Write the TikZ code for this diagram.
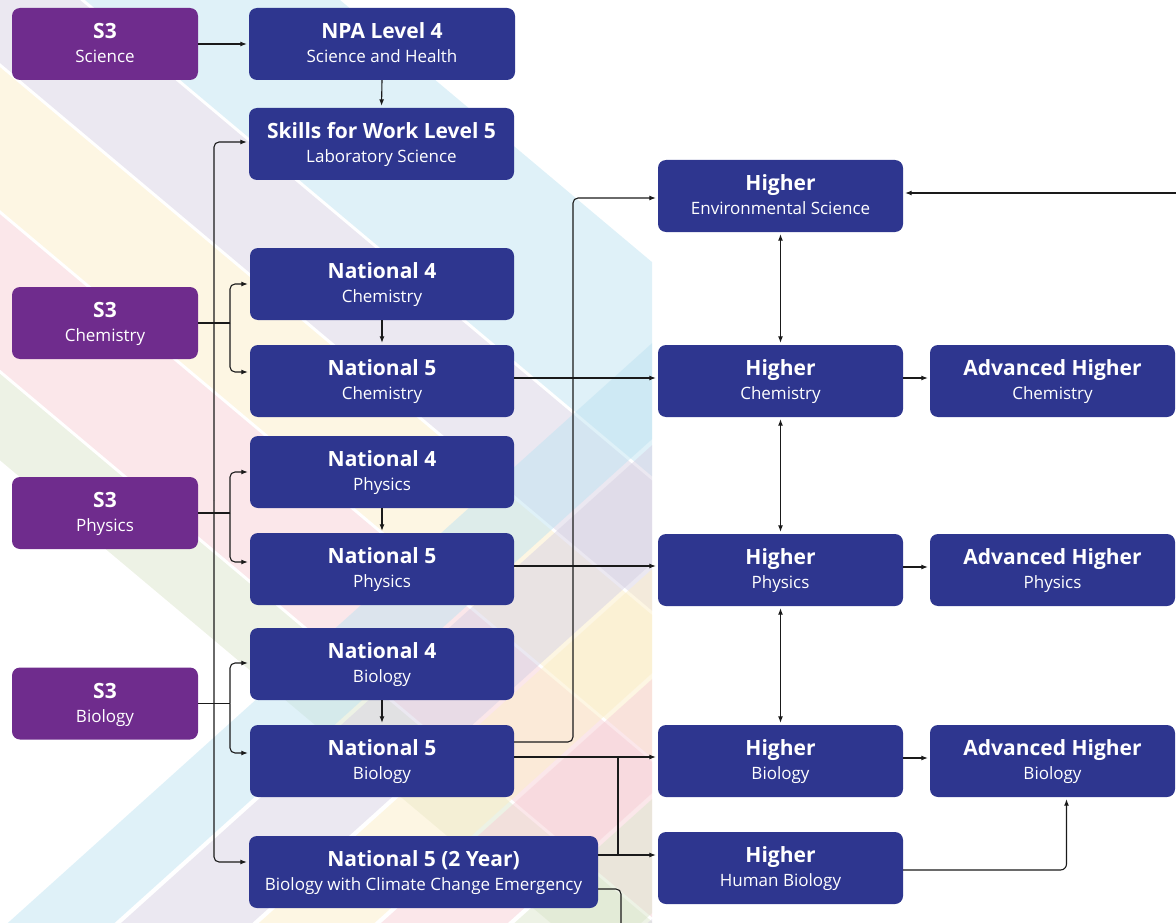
\documentclass[tikz,border=0pt]{standalone}
\usepackage{fontspec}
\setmainfont{Open Sans}
\usetikzlibrary{arrows.meta}
\definecolor{s3purple}{HTML}{6F2C8D}
\definecolor{navy}{HTML}{2E368F}
\definecolor{lineclr}{HTML}{1A1A1A}
% down bands (opaque, target colours)
\definecolor{dLav}{HTML}{EBE8F1}
\definecolor{dBlue}{HTML}{DFF1F8}
\definecolor{dYel}{HTML}{FDF6E3}
\definecolor{dPink}{HTML}{FBE7EA}
\definecolor{dGreen}{HTML}{EDF2E5}
% up bands (used at half opacity)
\definecolor{uLav}{RGB}{215,209,227}
\definecolor{uBlue}{RGB}{191,227,241}
\definecolor{uYel}{RGB}{251,237,199}
\definecolor{uPink}{RGB}{247,207,213}
\definecolor{uGreen}{RGB}{219,229,203}
\newcommand\ttl[1]{{\bfseries\fontsize{21}{24}\selectfont #1}\rule{0pt}{20.8pt}}
\newcommand\dband[3]{\fill[#3] (#1-1100,-924) -- (#2-1100,-924) -- (#2+1100,924) -- (#1+1100,924) -- cycle;}
\newcommand\uband[3]{\fill[#3,fill opacity=0.5] (-100,#1+90) -- (800,#1-720) -- (800,#2-720) -- (-100,#2+90) -- cycle;}
\tikzset{
  box/.style={rounded corners=8pt, minimum height=72pt, text=white, align=center, inner sep=0pt, font=\fontsize{17}{24}\selectfont},
  s3box/.style={box, fill=s3purple, minimum width=186pt},
  bluebox/.style={box, fill=navy, minimum width=#1},
  bluebox/.default=264pt,
  conn/.style={draw=lineclr, line width=1.1pt, -{Latex[length=6.5pt,width=5pt]}, shorten >=2pt},
  conn2/.style={draw=lineclr, line width=1.1pt, {Latex[length=6.5pt,width=5pt]}-{Latex[length=6.5pt,width=5pt]}, shorten >=2pt, shorten <=2pt},
  plain/.style={draw=lineclr, line width=1.1pt},
}
\begin{document}
\begin{tikzpicture}[x=1pt,y=-1pt]
\useasboundingbox (0,0) rectangle (1176,923);
% background stripes
\begin{scope}
\clip (0,0) rectangle (652,923);
\dband{85}{340}{dBlue}
\dband{-75}{80}{dLav}
\dband{-250}{-80}{dYel}
\dband{-440}{-255}{dPink}
\dband{-548}{-445}{dGreen}
\uband{930}{1026}{uBlue}
\uband{1032}{1150}{uLav}
\uband{1156}{1260}{uYel}
\uband{1266}{1380}{uPink}
\uband{1386}{1500}{uGreen}
\uband{1506}{1620}{uLav}
\end{scope}
% nodes
\node[s3box] (s3sci) at (105,44) {\ttl{S3}\\Science\strut};
\node[bluebox=266pt] (npa) at (382,44) {\ttl{NPA Level 4}\\Science and Health\strut};
\node[bluebox=265pt] (skills) at (381.5,144) {\ttl{Skills for Work Level 5}\\Laboratory Science\strut};
\node[s3box] (s3chem) at (105,323) {\ttl{S3}\\Chemistry\strut};
\node[bluebox] (n4chem) at (382,284) {\ttl{National 4}\\Chemistry\strut};
\node[bluebox] (n5chem) at (382,381) {\ttl{National 5}\\Chemistry\strut};
\node[s3box] (s3phys) at (105,513) {\ttl{S3}\\Physics\strut};
\node[bluebox] (n4phys) at (382,472) {\ttl{National 4}\\Physics\strut};
\node[bluebox] (n5phys) at (382,569) {\ttl{National 5}\\Physics\strut};
\node[s3box] (s3bio) at (105,703.5) {\ttl{S3}\\Biology\strut};
\node[bluebox] (n4bio) at (382,664) {\ttl{National 4}\\Biology\strut};
\node[bluebox] (n5bio) at (382,761) {\ttl{National 5}\\Biology\strut};
\node[bluebox=349pt] (n5two) at (423.5,872) {\ttl{National 5 (2 Year)}\\Biology with Climate Change Emergency\strut};
\node[bluebox=245pt] (henv) at (780.5,196) {\ttl{Higher}\\Environmental Science\strut};
\node[bluebox=245pt] (hchem) at (780.5,381) {\ttl{Higher}\\Chemistry\strut};
\node[bluebox=245pt] (ahchem) at (1052.5,381) {\ttl{Advanced Higher}\\Chemistry\strut};
\node[bluebox=245pt] (hphys) at (780.5,570) {\ttl{Higher}\\Physics\strut};
\node[bluebox=245pt] (ahphys) at (1052.5,570) {\ttl{Advanced Higher}\\Physics\strut};
\node[bluebox=245pt] (hbio) at (780.5,761) {\ttl{Higher}\\Biology\strut};
\node[bluebox=245pt] (ahbio) at (1052.5,761) {\ttl{Advanced Higher}\\Biology\strut};
\node[bluebox=245pt] (hhb) at (780.5,868) {\ttl{Higher}\\Human Biology\strut};
% coordinates
\coordinate (bus) at (214,500);
\coordinate (cb) at (230,323);
\coordinate (pb) at (230,513);
\coordinate (bb) at (230,703.5);
\coordinate (envx) at (573,198);
\coordinate (rin) at (1180,193);
\coordinate (j1) at (618,757);
\coordinate (j2) at (618,855);
\coordinate (exitb) at (621,930);
% connectors
\draw[conn] (s3sci.east) -- (npa.west);
\draw[conn] (npa.south) -- (skills.north);
\draw[conn, rounded corners=5pt] (bus) |- ([yshift=2pt]skills.west);
\draw[conn, rounded corners=5pt] (bus) |- ([yshift=10pt]n5two.west);
\draw[plain] (s3chem.east) -- (cb);
\draw[conn, rounded corners=5pt] (cb) |- (n4chem.west);
\draw[conn, rounded corners=5pt] (cb) |- ([yshift=9pt]n5chem.west);
\draw[plain] (s3phys.east) -- (pb);
\draw[conn, rounded corners=5pt] (pb) |- (n4phys.west);
\draw[conn, rounded corners=5pt] (pb) |- ([yshift=7pt]n5phys.west);
\draw[plain] (s3bio.east) -- (bb);
\draw[conn, rounded corners=5pt] (bb) |- ([yshift=1pt]n4bio.west);
\draw[conn, rounded corners=5pt] (bb) |- ([yshift=8pt]n5bio.west);
\draw[conn] (n4chem.south) -- (n5chem.north);
\draw[conn] (n4phys.south) -- (n5phys.north);
\draw[conn] (n4bio.south) -- (n5bio.north);
\draw[conn] ([yshift=3pt]n5chem.east) -- ([yshift=3pt]hchem.west);
\draw[conn] ([yshift=3pt]n5phys.east) -- ([yshift=4pt]hphys.west);
\draw[conn, rounded corners=5pt] ([yshift=19pt]n5bio.east) -| (envx) -- ([yshift=-2pt]henv.west);
\draw[conn] ([yshift=4pt]n5bio.east) -- ([yshift=4pt]hbio.west);
\draw[conn] ([yshift=17pt]n5two.east) -- ([yshift=13pt]hhb.west);
\draw[plain, line width=1.6pt] (j1) -- (j2);
\draw[plain, rounded corners=5pt] ([yshift=-17pt]n5two.east) -| (exitb);
\draw[conn] (rin) -- ([yshift=3pt]henv.east);
\draw[conn2] (henv.south) -- (hchem.north);
\draw[conn2] (hchem.south) -- (hphys.north);
\draw[conn2] (hphys.south) -- (hbio.north);
\draw[conn] ([yshift=3pt]hchem.east) -- ([yshift=3pt]ahchem.west);
\draw[conn] ([yshift=3pt]hphys.east) -- ([yshift=3pt]ahphys.west);
\draw[conn] ([yshift=3pt]hbio.east) -- ([yshift=3pt]ahbio.west);
\draw[conn, rounded corners=6pt] ([yshift=-2pt]hhb.east) -| ([xshift=14pt]ahbio.south);
\end{tikzpicture}
\end{document}
